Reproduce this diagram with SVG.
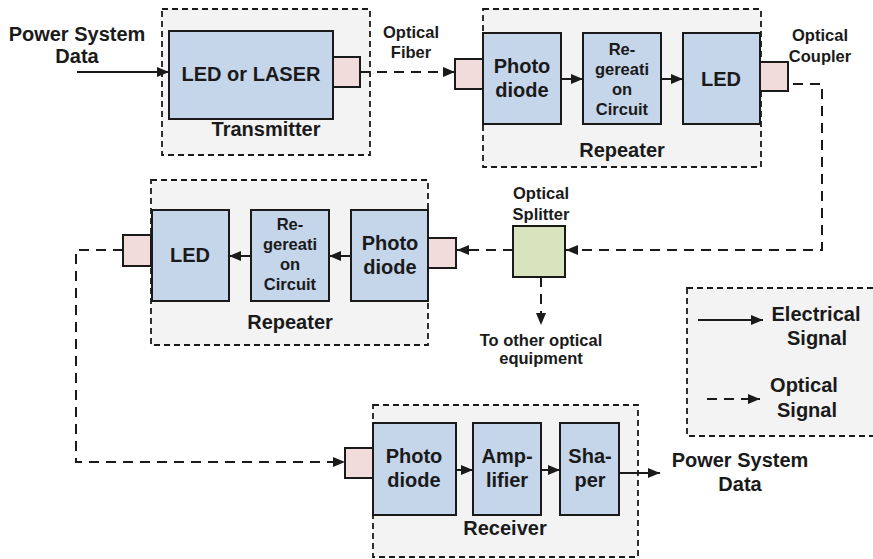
<svg xmlns="http://www.w3.org/2000/svg" width="873" height="559" viewBox="0 0 873 559">
<defs>
<marker id="ah" viewBox="0 0 12 10" refX="12" refY="5" markerWidth="12" markerHeight="10" markerUnits="userSpaceOnUse" orient="auto">
<path d="M0,0 L12,5 L0,10 z" fill="#1a1a1a"/>
</marker>
</defs>
<style>
text{font-family:"Liberation Sans",Arial,sans-serif;font-weight:bold;fill:#1a1a1a;text-anchor:middle}
.grp{fill:#f3f3f3;stroke:#1a1a1a;stroke-width:1.8;stroke-dasharray:6 4}
.blk{fill:#c5d5ea;stroke:#1a1a1a;stroke-width:2}
.pink{fill:#f2dcdb;stroke:#1a1a1a;stroke-width:2}
.green{fill:#d7e4bd;stroke:#1a1a1a;stroke-width:2}
.el{fill:none;stroke:#1a1a1a;stroke-width:2;marker-end:url(#ah)}
.op{fill:none;stroke:#1a1a1a;stroke-width:2;stroke-dasharray:10 7;marker-end:url(#ah)}
.b20{font-size:20px}
.b16{font-size:16.5px}
.lbl{font-size:20px}
.sm{font-size:16.5px}
</style>
<rect width="873" height="559" fill="#ffffff"/>

<g id="transmitter">
<rect class="grp" x="162" y="9" width="208" height="146"/>
<rect class="blk" x="169" y="31" width="164" height="88"/>
<text class="b20" x="251" y="81">LED or LASER</text>
<rect class="pink" x="333" y="57" width="27" height="30"/>
<text class="lbl" x="266" y="136">Transmitter</text>
</g>

<g id="repeater1">
<rect class="grp" x="483" y="9" width="278" height="158"/>
<rect class="blk" x="483" y="33" width="78" height="91"/>
<text class="b20" x="522" y="73">Photo</text>
<text class="b20" x="522" y="97">diode</text>
<rect class="blk" x="583" y="33" width="78" height="91"/>
<text class="b16" x="622" y="55">Re-</text>
<text class="b16" x="622" y="75">gereati</text>
<text class="b16" x="622" y="95">on</text>
<text class="b16" x="622" y="115">Circuit</text>
<rect class="blk" x="683" y="33" width="77" height="91"/>
<text class="b20" x="721" y="86">LED</text>
<rect class="pink" x="455" y="59" width="28" height="30"/>
<rect class="pink" x="760" y="62" width="28" height="29"/>
<text class="lbl" x="622" y="157">Repeater</text>
</g>

<g id="splitter">
<rect class="green" x="513" y="226" width="52" height="51"/>
<text class="sm" x="541" y="199">Optical</text>
<text class="sm" x="541" y="220">Splitter</text>
</g>

<g id="repeater2">
<rect class="grp" x="151" y="180" width="277" height="165"/>
<rect class="blk" x="152" y="210" width="77" height="91"/>
<text class="b20" x="190" y="262">LED</text>
<rect class="blk" x="251" y="210" width="78" height="91"/>
<text class="b16" x="290" y="230">Re-</text>
<text class="b16" x="290" y="250">gereati</text>
<text class="b16" x="290" y="270">on</text>
<text class="b16" x="290" y="290">Circuit</text>
<rect class="blk" x="351" y="210" width="77" height="91"/>
<text class="b20" x="390" y="250">Photo</text>
<text class="b20" x="390" y="274">diode</text>
<rect class="pink" x="428" y="238" width="28" height="30"/>
<rect class="pink" x="123" y="235" width="28" height="31"/>
<text class="lbl" x="290" y="329">Repeater</text>
</g>

<g id="receiver">
<rect class="grp" x="373" y="405" width="265" height="152"/>
<rect class="pink" x="345" y="448" width="28" height="30"/>
<rect class="blk" x="373" y="423" width="83" height="92"/>
<text class="b20" x="414" y="463">Photo</text>
<text class="b20" x="414" y="487">diode</text>
<rect class="blk" x="473" y="423" width="68" height="92"/>
<text class="b20" x="507" y="463">Amp-</text>
<text class="b20" x="507" y="487">lifier</text>
<rect class="blk" x="560" y="423" width="59" height="92"/>
<text class="b20" x="590" y="463">Sha-</text>
<text class="b20" x="590" y="487">per</text>
<text class="lbl" x="505" y="535">Receiver</text>
</g>

<g id="legend">
<rect class="grp" x="687" y="288" width="200" height="148"/>
<path class="el" d="M698,320 H763"/>
<text class="lbl" x="816" y="321">Electrical</text>
<text class="lbl" x="817" y="345">Signal</text>
<path d="M707,399 H760" fill="none" stroke="#1a1a1a" stroke-width="2" stroke-dasharray="10 7" marker-end="url(#ah)"/>
<text class="lbl" x="804" y="392">Optical</text>
<text class="lbl" x="807" y="417">Signal</text>
</g>

<g id="labels">
<text class="lbl" x="77" y="41">Power System</text>
<text class="lbl" x="77" y="63">Data</text>
<text class="sm" x="411" y="38">Optical</text>
<text class="sm" x="411" y="58">Fiber</text>
<text class="sm" x="820" y="41">Optical</text>
<text class="sm" x="820" y="62">Coupler</text>
<text class="sm" x="541" y="346">To other optical</text>
<text class="sm" x="541" y="364">equipment</text>
<text class="lbl" x="740" y="467">Power System</text>
<text class="lbl" x="740" y="491">Data</text>
</g>

<g id="connectors">
<path class="el" d="M77,72 H169"/>
<path class="op" d="M360,72 H455"/>
<path class="el" d="M561,79 H583"/>
<path class="el" d="M661,79 H683"/>
<path class="op" d="M793,84 H822 V250 H566"/>
<path class="op" d="M513,250 H457"/>
<path class="op" d="M541,277 V325"/>
<path class="el" d="M351,256 H329"/>
<path class="el" d="M251,256 H229"/>
<path class="op" d="M123,250 H76 V462 H345"/>
<path class="el" d="M456,470 H473"/>
<path class="el" d="M541,470 H560"/>
<path class="el" d="M619,473 H660"/>
</g>
</svg>
